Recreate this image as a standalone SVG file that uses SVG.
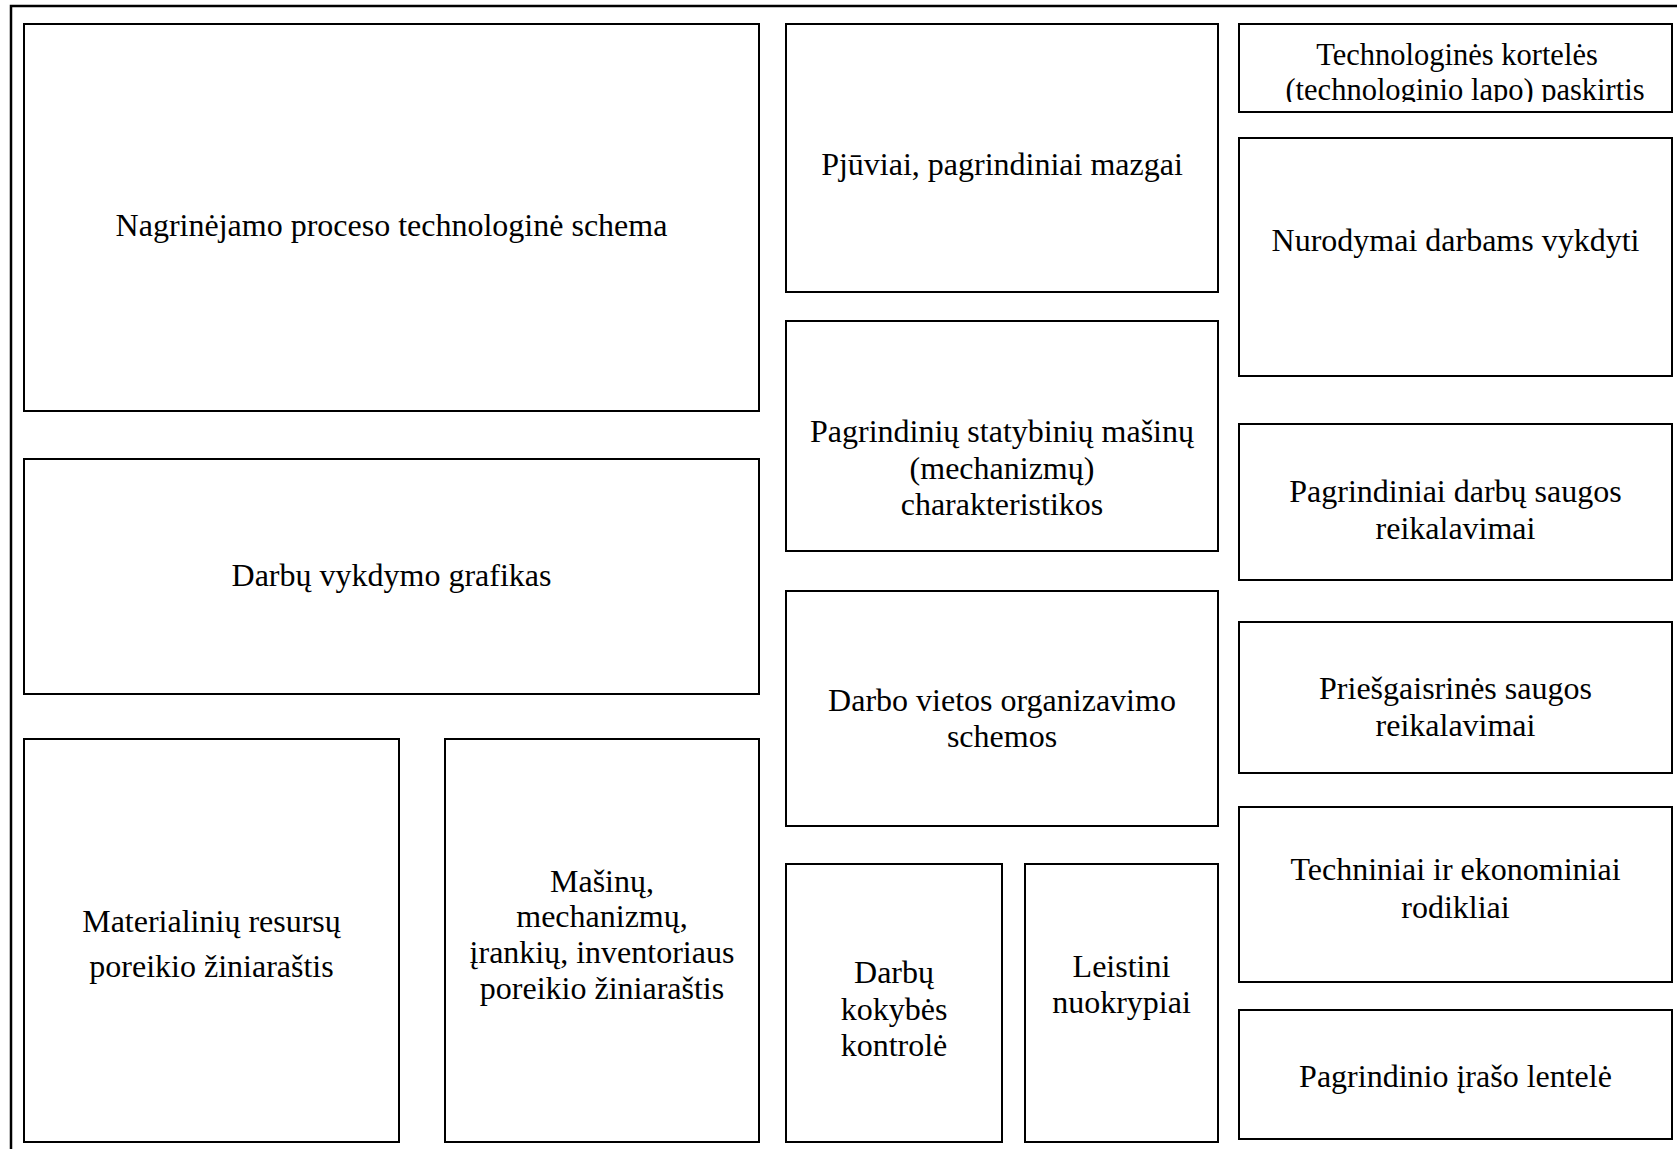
<svg xmlns="http://www.w3.org/2000/svg" width="1677" height="1149" viewBox="0 0 1677 1149">
<style>
  .box{fill:#fff;stroke:#000;stroke-width:2}
  .frame{fill:none;stroke:#000;stroke-width:2.5}
  text{font-family:"Liberation Serif","Times New Roman",serif;font-size:32px;fill:#000;text-anchor:middle}
  .small{font-size:30.5px}
</style>
<defs>
  <clipPath id="clipJ"><rect x="1240" y="25" width="431" height="77"/></clipPath>
</defs>
<rect width="1677" height="1149" fill="#fff"/>
<rect class="frame" x="11" y="6" width="1700" height="1200"/>
<g id="connectors"/>
<g id="n-schema">
  <rect class="box" x="24" y="24" width="735" height="387"/>
  <text x="391.5" y="236">Nagrinėjamo proceso technologinė schema</text>
</g>
<g id="n-grafikas">
  <rect class="box" x="24" y="459" width="735" height="235"/>
  <text x="391.5" y="586">Darbų vykdymo grafikas</text>
</g>
<g id="n-materialiniu">
  <rect class="box" x="24" y="739" width="375" height="403"/>
  <text x="211.5" y="932">Materialinių resursų</text>
  <text x="211.5" y="977">poreikio žiniaraštis</text>
</g>
<g id="n-masinu">
  <rect class="box" x="445" y="739" width="314" height="403"/>
  <text x="602" y="892">Mašinų,</text>
  <text x="602" y="927">mechanizmų,</text>
  <text x="602" y="963">įrankių, inventoriaus</text>
  <text x="602" y="999">poreikio žiniaraštis</text>
</g>
<g id="n-pjuviai">
  <rect class="box" x="786" y="24" width="432" height="268"/>
  <text x="1002" y="175">Pjūviai, pagrindiniai mazgai</text>
</g>
<g id="n-masinu-charakteristikos">
  <rect class="box" x="786" y="321" width="432" height="230"/>
  <text x="1002" y="442">Pagrindinių statybinių mašinų</text>
  <text x="1002" y="479">(mechanizmų)</text>
  <text x="1002" y="515">charakteristikos</text>
</g>
<g id="n-darbo-vietos">
  <rect class="box" x="786" y="591" width="432" height="235"/>
  <text x="1002" y="711">Darbo vietos organizavimo</text>
  <text x="1002" y="747">schemos</text>
</g>
<g id="n-kokybes">
  <rect class="box" x="786" y="864" width="216" height="278"/>
  <text x="894" y="983">Darbų</text>
  <text x="894" y="1020">kokybės</text>
  <text x="894" y="1056">kontrolė</text>
</g>
<g id="n-leistini">
  <rect class="box" x="1025" y="864" width="193" height="278"/>
  <text x="1121.5" y="977">Leistini</text>
  <text x="1121.5" y="1013">nuokrypiai</text>
</g>
<g id="n-korteles">
  <rect class="box" x="1239" y="24" width="433" height="88"/>
  <g clip-path="url(#clipJ)">
    <text class="small" x="1457" y="65">Technologinės kortelės</text>
    <text class="small" x="1465" y="100">(technologinio lapo) paskirtis</text>
  </g>
</g>
<g id="n-nurodymai">
  <rect class="box" x="1239" y="138" width="433" height="238"/>
  <text x="1455.5" y="251">Nurodymai darbams vykdyti</text>
</g>
<g id="n-darbu-saugos">
  <rect class="box" x="1239" y="424" width="433" height="156"/>
  <text x="1455.5" y="502">Pagrindiniai darbų saugos</text>
  <text x="1455.5" y="539">reikalavimai</text>
</g>
<g id="n-priesgaisrines">
  <rect class="box" x="1239" y="622" width="433" height="151"/>
  <text x="1455.5" y="699">Priešgaisrinės saugos</text>
  <text x="1455.5" y="736">reikalavimai</text>
</g>
<g id="n-rodikliai">
  <rect class="box" x="1239" y="807" width="433" height="175"/>
  <text x="1455.5" y="880">Techniniai ir ekonominiai</text>
  <text x="1455.5" y="918">rodikliai</text>
</g>
<g id="n-irasas">
  <rect class="box" x="1239" y="1010" width="433" height="129"/>
  <text x="1455.5" y="1087">Pagrindinio įrašo lentelė</text>
</g>
</svg>
